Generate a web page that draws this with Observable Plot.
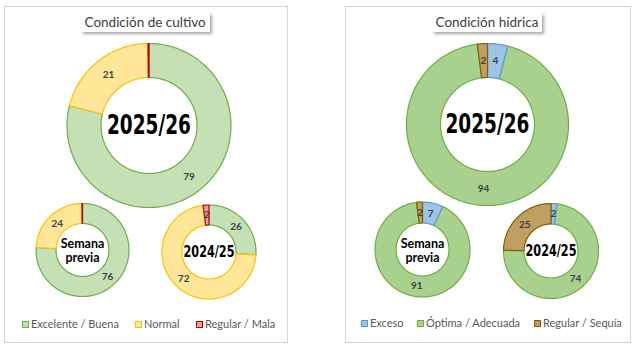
<!DOCTYPE html>
<html><head><meta charset="utf-8">
<script src="https://cdn.jsdelivr.net/npm/d3@7"></script>
<script src="https://cdn.jsdelivr.net/npm/@observablehq/plot@0.6"></script>
<style>
body{margin:0;background:#fff;}
#wrap{position:relative;width:640px;height:351px;font-family:Lato,'Open Sans',sans-serif;overflow:hidden;}
.panel{position:absolute;border:1px solid #d3d3d3;box-sizing:border-box;}
.title{position:absolute;background:#fff;box-shadow:2px 2px 3px rgba(0,0,0,0.35);font-size:13.5px;color:#404040;text-align:center;line-height:19px;white-space:nowrap;}
.lt{position:absolute;font-size:11px;color:#595959;white-space:nowrap;line-height:14px;}
.sw{position:absolute;width:7px;height:7px;border:1px solid;box-sizing:border-box;}
#chart{position:absolute;left:0;top:0;}
</style></head><body><div id="wrap"></div>
<script>
// ---- data ----
const cultivoTitle = "Condición de cultivo";
const hidricaTitle = "Condición hídrica";
const cultivoCategories = ["Excelente / Buena", "Normal", "Regular / Mala"];
const hidricaCategories = ["Exceso", "Óptima / Adecuada", "Regular / Sequía"];
const cultivo2526 = [79, 21, 0.2];
const cultivoPrev = [76, 24, 0.2];
const cultivo2425 = [26, 72, 2];
const hidrica2526 = [4, 94, 2];
const hidricaPrev = [7, 91, 2];
const hidrica2425 = [2, 74, 25];
const centerLabels = ["2025/26", "Semana\nprevia", "2024/25"];

// ---- styles ----
const cultivoFill = ["#c5e0b4", "#ffe699", "#f59aa5"];
const cultivoStroke = ["#70ad47", "#ffc000", "#c00000"];
const hidricaFill = ["#9dc3e6", "#a9d18e", "#bf9f62"];
const hidricaStroke = ["#5b9bd5", "#70ad47", "#806000"];
const cultivoOrder = [0, 1, 2];
const hidricaOrder = [1, 0, 2];

// ---- layout ----
const donuts = [
  {values: cultivo2526, cx: 148.5, cy: 125, R: 82, r: 48, label: 0, panel: "c"},
  {values: cultivoPrev, cx: 82, cy: 249.5, R: 46.5, r: 26.5, label: 1, panel: "c"},
  {values: cultivo2425, cx: 208.5, cy: 251.5, R: 47, r: 27, label: 2, panel: "c"},
  {values: hidrica2526, cx: 487, cy: 124, R: 81, r: 47, label: 0, panel: "h"},
  {values: hidricaPrev, cx: 422, cy: 249, R: 47.5, r: 26.5, label: 1, panel: "h"},
  {values: hidrica2425, cx: 550.5, cy: 250.5, R: 47.5, r: 27, label: 2, panel: "h"}
];
const legendTextX = {c: [31, 144, 205], h: [370, 426, 543]};
const legendY = {c: 324, h: 323};

const polyRows = [];
const labelRows = [];
donuts.forEach((d, di) => {
  const arcs = d3.pie().sort(null)(d.values);
  arcs.forEach((a, k) => {
    const id = di + "-" + k;
    const n = Math.max(2, Math.ceil((a.endAngle - a.startAngle) / (Math.PI / 180)));
    for (let i = 0; i <= n; i++) {
      const t = a.startAngle + (a.endAngle - a.startAngle) * i / n;
      polyRows.push({id, panel: d.panel, k, x: d.cx + d.R * Math.sin(t), y: d.cy - d.R * Math.cos(t)});
    }
    for (let i = n; i >= 0; i--) {
      const t = a.startAngle + (a.endAngle - a.startAngle) * i / n;
      polyRows.push({id, panel: d.panel, k, x: d.cx + d.r * Math.sin(t), y: d.cy - d.r * Math.cos(t)});
    }
    if (d.values[k] >= 1) {
      const m = (a.startAngle + a.endAngle) / 2, rm = (d.R + d.r) / 2;
      labelRows.push({x: d.cx + rm * Math.sin(m), y: d.cy - rm * Math.cos(m), text: String(d.values[k])});
    }
  });
});
const bigCenters = donuts.filter(d => d.label === 0).map(d => ({x: d.cx, y: d.cy, text: centerLabels[0]}));
const prevCenters = donuts.filter(d => d.label === 1).map(d => ({x: d.cx, y: d.cy + 1, text: centerLabels[1]}));
const oldCenters = donuts.filter(d => d.label === 2).map(d => ({x: d.cx, y: d.cy, text: centerLabels[2]}));

const sliceMarks = [];
cultivoOrder.forEach(k => sliceMarks.push(Plot.line(polyRows.filter(p => p.panel === "c" && p.k === k),
  {x: "x", y: "y", z: "id", fill: cultivoFill[k], stroke: cultivoStroke[k], strokeWidth: 1.2, curve: "linear-closed"})));
hidricaOrder.forEach(k => sliceMarks.push(Plot.line(polyRows.filter(p => p.panel === "h" && p.k === k),
  {x: "x", y: "y", z: "id", fill: hidricaFill[k], stroke: hidricaStroke[k], strokeWidth: 1.2, curve: "linear-closed"})));

const chart = Plot.plot({
  width: 640, height: 351, margin: 0,
  x: {domain: [0, 640], range: [0, 640], axis: null},
  y: {domain: [0, 351], range: [0, 351], axis: null},
  style: {background: "transparent"},
  marks: [
    ...sliceMarks,
    Plot.text(labelRows, {x: "x", y: "y", text: "text", fontSize: 10, fontWeight: "bold", fill: "#404040", fontFamily: "Lato,sans-serif"}),
    Plot.text(bigCenters, {x: "x", y: "y", text: "text", fontSize: 26, fontWeight: "bold", fill: "#000", fontFamily: "DejaVu Sans,sans-serif"}),
    Plot.text(prevCenters, {x: "x", y: "y", text: "text", fontSize: 12.5, fontWeight: "bold", fill: "#000", lineHeight: 1.12, fontFamily: "Lato,sans-serif"}),
    Plot.text(oldCenters, {x: "x", y: "y", text: "text", fontSize: 15.5, fontWeight: "bold", fill: "#000", fontFamily: "DejaVu Sans,sans-serif"})
  ]
});
chart.id = "chart";
// narrow the year labels to the condensed look of the original
chart.querySelectorAll("text").forEach(t => {
  if (t.textContent === centerLabels[0]) { t.setAttribute("textLength", 84); t.setAttribute("lengthAdjust", "spacingAndGlyphs"); }
  if (t.textContent === centerLabels[2]) { t.setAttribute("textLength", 51); t.setAttribute("lengthAdjust", "spacingAndGlyphs"); }
});

const wrap = document.getElementById("wrap");
function panel(l, t, w, h) {
  const p = document.createElement("div"); p.className = "panel";
  Object.assign(p.style, {left: l + "px", top: t + "px", width: w + "px", height: h + "px"});
  wrap.appendChild(p);
}
function title(text, cx, t) {
  const e = document.createElement("div"); e.className = "title"; e.textContent = text;
  e.style.top = t + "px"; e.style.padding = "0 4px";
  wrap.appendChild(e);
  e.style.left = (cx - e.offsetWidth / 2) + "px";
}
function legend(cats, fills, strokes, xs, cy) {
  cats.forEach((c, i) => {
    const sw = document.createElement("div"); sw.className = "sw";
    sw.style.background = fills[i]; sw.style.borderColor = strokes[i];
    sw.style.left = (xs[i] - 9) + "px"; sw.style.top = (cy - 3.5) + "px";
    wrap.appendChild(sw);
    const t = document.createElement("div"); t.className = "lt"; t.textContent = c;
    t.style.left = xs[i] + "px"; t.style.top = (cy - 7) + "px";
    wrap.appendChild(t);
  });
}
panel(4, 6, 284, 337);
panel(345, 6, 286, 337);
wrap.appendChild(chart);
title(cultivoTitle, 145, 13);
title(hidricaTitle, 487, 13);
legend(cultivoCategories, cultivoFill, cultivoStroke, legendTextX.c, legendY.c);
legend(hidricaCategories, hidricaFill, hidricaStroke, legendTextX.h, legendY.h);
</script></body></html>
